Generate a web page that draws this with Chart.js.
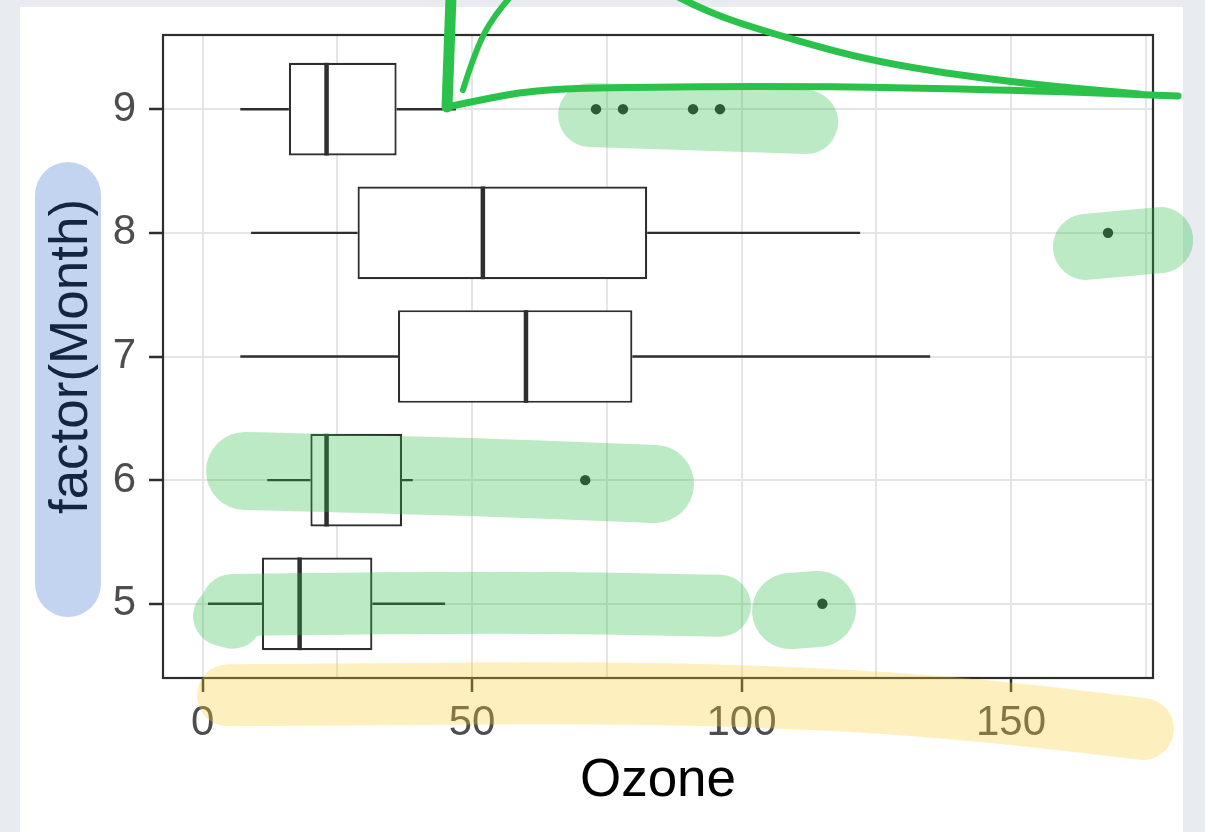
<!DOCTYPE html>
<html>
<head>
<meta charset="utf-8">
<script src="https://cdn.jsdelivr.net/npm/chart.js@4.4.1/dist/chart.umd.min.js"></script>
<style>
  html, body { margin: 0; padding: 0; background: #e8ecf0; }
  canvas { display: block; }
</style>
</head>
<body>
<canvas id="c" width="1205" height="832"></canvas>
<script>
// ---- data (airquality: Ozone by Month) ----
const months      = [5, 6, 7, 8, 9];
const whiskerLow  = [1, 12, 7, 9, 7];
const q1          = [11, 20, 36.25, 28.75, 16];
const medians     = [18, 23, 60, 52, 23];
const q3          = [31.5, 37, 79.75, 82.5, 36];
const whiskerHigh = [45, 39, 135, 122, 47];
const outlierMonths = [5, 6, 8, 9, 9, 9, 9];
const outlierValues = [115, 71, 168, 73, 78, 91, 96];
const xMajorTicks = [0, 50, 100, 150];
const xMinorTicks = [25, 75, 125, 175];
const yTicks = [5, 6, 7, 8, 9];
const xLimits = [-7.35, 176.35];
const yLimits = [4.4, 9.6];

// ---- hand-drawn highlight annotations, in data space [Ozone, Month] ----
const greenBlobs = [
  { w: 64, pts: [[71.9, 8.953], [112.0, 8.896]] },
  { w: 66, pts: [[163.9, 7.886], [177.7, 7.942]] },
  { w: 78, pts: [[7.87, 6.074], [45.9, 6.034], [83.95, 5.969]] },
  { w: 62, pts: [[5.46, 4.99], [51.5, 5.02], [96.0, 4.985]] },
  { w: 76, pts: [[109.0, 4.942], [114.2, 4.958]] },
  { w: 60, pts: [[3.8, 4.90], [5.6, 4.88]] }
];
const blueBlobs = [
  { w: 66, pts: [[-24.98, 8.306], [-24.98, 5.160]] }
];
const yellowBlobs = [
  { w: 62, pts: [[4.71, 4.26], [36.6, 4.275], [83.0, 4.279], [120.1, 4.222], [147.96, 4.125], [174.5, 3.988]] }
];
const penStrokes = [
  { w: 11, pts: [[46.1, 9.924], [45.35, 9.018]] },
  { w: 7, pts: [[45.35, 9.018], [51.5, 9.075], [58.9, 9.135], [65.2, 9.160], [73.7, 9.175], [110.9, 9.188], [150.95, 9.155], [181.0, 9.107]] },
  { w: 6, pts: [[48.3, 9.155], [49.6, 9.333], [51.8, 9.584], [54.3, 9.762], [57.4, 9.924]] },
  { w: 7, pts: [[87.5, 9.924], [93.5, 9.786], [105.3, 9.616], [125.1, 9.374], [150.95, 9.212], [173.8, 9.123]] }
];

const FONT = '"Liberation Sans", Arial, Helvetica, sans-serif';
const INK = '#2e2e2e';

const bgPlugin = {
  id: 'bg',
  beforeDraw(chart) {
    const c = chart.ctx;
    c.save();
    c.fillStyle = '#e8ecf0';
    c.fillRect(0, 0, chart.width, chart.height);
    c.fillStyle = '#ffffff';
    c.fillRect(20, 7, 1163, chart.height - 7);
    c.restore();
  }
};

const boxPlugin = {
  id: 'boxparts',
  beforeDatasetsDraw(chart) {
    const { ctx, scales: { x, y } } = chart;
    ctx.save();
    ctx.strokeStyle = INK;
    ctx.lineWidth = 2.4;
    months.forEach((m, i) => {
      const py = y.getPixelForValue(m);
      ctx.beginPath();
      ctx.moveTo(x.getPixelForValue(whiskerLow[i]), py);
      ctx.lineTo(x.getPixelForValue(q1[i]), py);
      ctx.moveTo(x.getPixelForValue(q3[i]), py);
      ctx.lineTo(x.getPixelForValue(whiskerHigh[i]), py);
      ctx.stroke();
    });
    ctx.restore();
  },
  afterDatasetDraw(chart, args) {
    if (args.index !== 0) return;
    const { ctx, scales: { x, y } } = chart;
    const meta = chart.getDatasetMeta(0);
    ctx.save();
    ctx.strokeStyle = INK;
    ctx.lineWidth = 4.5;
    months.forEach((m, i) => {
      const el = meta.data[i];
      const h = el.height;
      const py = y.getPixelForValue(m);
      const px = x.getPixelForValue(medians[i]);
      ctx.beginPath();
      ctx.moveTo(px, py - h / 2);
      ctx.lineTo(px, py + h / 2);
      ctx.stroke();
    });
    ctx.restore();
  }
};

function smoothPath(o, pts) {
  o.moveTo(pts[0][0], pts[0][1]);
  if (pts.length === 2) { o.lineTo(pts[1][0], pts[1][1]); return; }
  for (let i = 1; i < pts.length - 1; i++) {
    const mx = (pts[i][0] + pts[i + 1][0]) / 2;
    const my = (pts[i][1] + pts[i + 1][1]) / 2;
    o.quadraticCurveTo(pts[i][0], pts[i][1], mx, my);
  }
  const last = pts[pts.length - 1];
  o.lineTo(last[0], last[1]);
}

const overlayPlugin = {
  id: 'overlay',
  afterDraw(chart) {
    const { ctx, chartArea: a, scales: { x, y } } = chart;
    // panel border
    ctx.save();
    ctx.strokeStyle = INK;
    ctx.lineWidth = 2.2;
    ctx.strokeRect(a.left, a.top, a.right - a.left, a.bottom - a.top);
    ctx.restore();

    const toPx = (p) => [x.getPixelForValue(p[0]), y.getPixelForValue(p[1])];
    const layer = (marks, color, alpha) => {
      const off = document.createElement('canvas');
      off.width = chart.width; off.height = chart.height;
      const o = off.getContext('2d');
      o.strokeStyle = color; o.lineCap = 'round'; o.lineJoin = 'round';
      marks.forEach(mk => {
        o.beginPath();
        o.lineWidth = mk.w;
        smoothPath(o, mk.pts.map(toPx));
        o.stroke();
      });
      ctx.save();
      ctx.globalAlpha = alpha;
      ctx.drawImage(off, 0, 0);
      ctx.restore();
    };
    layer(greenBlobs, 'rgb(40,190,70)', 0.31);
    layer(blueBlobs, 'rgb(60,120,210)', 0.31);
    layer(yellowBlobs, 'rgb(250,208,55)', 0.32);
    layer(penStrokes, '#2bc24b', 1);
  }
};

new Chart(document.getElementById('c'), {
  type: 'bar',
  data: {
    datasets: [
      {
        type: 'bar',
        label: 'Ozone box',
        data: months.map((m, i) => ({ y: m, x: [q1[i], q3[i]] })),
        backgroundColor: '#ffffff',
        borderColor: INK,
        borderWidth: 2.2,
        borderSkipped: false,
        barPercentage: 0.75,
        categoryPercentage: 1,
        xAxisID: 'x', yAxisID: 'y',
        order: 1
      },
      {
        type: 'scatter',
        label: 'outliers',
        data: outlierValues.map((v, i) => ({ x: v, y: outlierMonths[i] })),
        backgroundColor: INK,
        borderColor: INK,
        borderWidth: 0,
        pointRadius: 5.2,
        xAxisID: 'x', yAxisID: 'y',
        order: 0
      }
    ]
  },
  options: {
    indexAxis: 'y',
    responsive: false,
    animation: false,
    devicePixelRatio: 1,
    layout: { padding: { left: 0, top: 35, right: 52, bottom: 0 } },
    plugins: { legend: { display: false }, tooltip: { enabled: false } },
    scales: {
      x: {
        type: 'linear',
        position: 'bottom',
        min: xLimits[0],
        max: xLimits[1],
        afterBuildTicks(s) {
          s.ticks = [...xMajorTicks, ...xMinorTicks].sort((a, b) => a - b).map(v => ({ value: v }));
        },
        afterFit(s) { s.height = 154; s.paddingLeft = 0; s.paddingRight = 0; },
        ticks: {
          callback: (v) => xMajorTicks.includes(v) ? String(v) : '',
          color: '#4d4d4d',
          font: { family: FONT, size: 42 },
          padding: 6,
          maxRotation: 0,
          autoSkip: false
        },
        grid: {
          color: '#e5e5e5',
          lineWidth: 2,
          tickLength: 14,
          tickWidth: 2.5,
          tickColor: (c) => (c.tick && xMajorTicks.includes(c.tick.value)) ? INK : 'rgba(0,0,0,0)'
        },
        border: { display: false },
        title: {
          display: true, text: 'Ozone', color: '#000000',
          font: { family: FONT, size: 53 },
          padding: { top: 0, bottom: 19 }
        }
      },
      y: {
        type: 'linear',
        position: 'left',
        min: yLimits[0],
        max: yLimits[1],
        offset: false,
        afterBuildTicks(s) { s.ticks = yTicks.map(v => ({ value: v })); },
        afterFit(s) { s.width = 163; s.paddingTop = 0; s.paddingBottom = 0; },
        ticks: {
          callback: (v) => String(v),
          color: '#4d4d4d',
          font: { family: FONT, size: 42 },
          padding: 13
        },
        grid: {
          color: '#e5e5e5',
          lineWidth: 2,
          offset: false,
          tickLength: 14,
          tickWidth: 2.5,
          tickColor: INK
        },
        border: { display: false },
        title: {
          display: true, text: 'factor(Month)', color: '#000000',
          font: { family: FONT, size: 53 },
          padding: { top: 41, bottom: 0 }
        }
      }
    }
  },
  plugins: [bgPlugin, boxPlugin, overlayPlugin]
});
</script>
</body>
</html>
